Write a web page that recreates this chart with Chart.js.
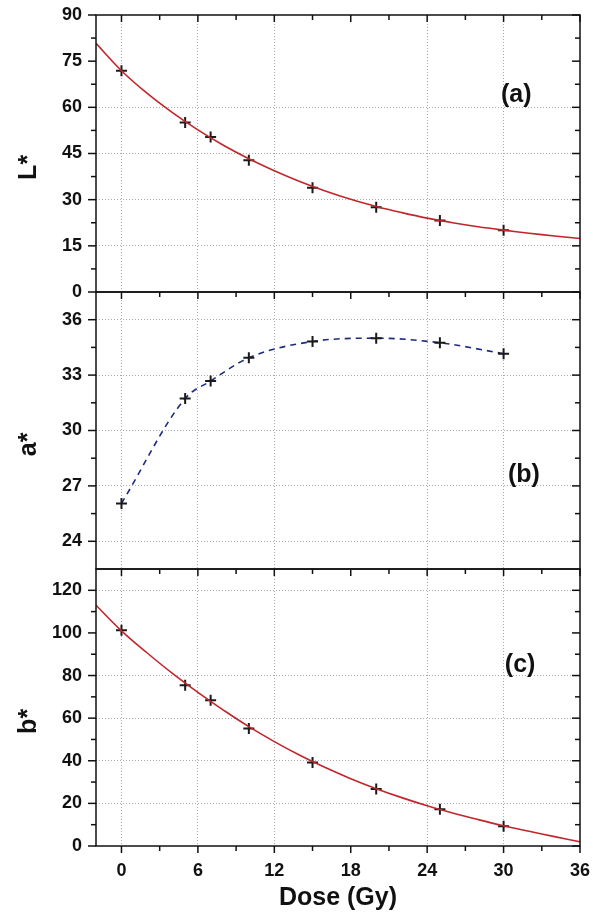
<!DOCTYPE html>
<html>
<head>
<meta charset="utf-8">
<script src="https://cdn.jsdelivr.net/npm/chart.js@4.4.1/dist/chart.umd.min.js"></script>
<style>
  html, body { margin: 0; padding: 0; background: #fff; }
  #wrap { width: 593px; height: 915px; position: relative; }
</style>
</head>
<body>
<div id="wrap"><canvas id="colorChart"></canvas></div>
<script>
// measured points
const dose = [0, 5, 7, 10, 15, 20, 25, 30];
const lStar = [71.9, 55.1, 50.4, 42.8, 33.9, 27.5, 23.2, 20.1];
const aStar = [26.05, 31.73, 32.68, 33.94, 34.82, 35.0, 34.75, 34.16];
const bStar = [101.2, 75.4, 68.4, 55.1, 39.2, 26.7, 17.3, 9.3];

// fitted curves
const fitDose = [-2, 0, 2, 4, 6, 8, 10, 12, 14, 16, 18, 20, 22, 24, 26, 28, 30, 32, 34, 36];
const lFit = [80.8, 71.9, 64.6, 58.3, 52.7, 47.7, 43.3, 39.4, 35.9, 32.8, 30.1, 27.8, 25.8, 24.0, 22.5, 21.2, 20.1, 19.1, 18.2, 17.4];
const bFit = [113, 101, 90.7, 81.0, 72.1, 63.8, 56.0, 49.0, 42.6, 36.8, 31.6, 26.9, 22.7, 18.9, 15.5, 12.4, 9.5, 6.9, 4.4, 2.0];

// ticks
const xTicks = [0, 6, 12, 18, 24, 30, 36];
const lTicks = [0, 15, 30, 45, 60, 75, 90];
const aTicks = [24, 27, 30, 33, 36];
const bTicks = [0, 20, 40, 60, 80, 100, 120];
const panelNames = ['(a)', '(b)', '(c)'];

const FONT = "'Liberation Sans', Arial, sans-serif";
const hiddenX = [18, 36, -2];
const hiddenY = { yA: [0, 75, 90], yB: [], yC: [0, 100] };

const toXY = (xs, ys) => xs.map((x, i) => ({ x: x, y: ys[i] }));
const pts = (arr) => arr.map(v => ({ value: v }));
const noPad = s => { s.paddingTop = 0; s.paddingBottom = 0; s.paddingLeft = 0; s.paddingRight = 0; };

function yScale(min, max, ticks, label, id) {
    return {
        type: 'linear',
        position: 'left',
        stack: 'panels',
        stackWeight: 1,
        min: min,
        max: max,
        afterBuildTicks: s => { s.ticks = pts(ticks); },
        afterFit: s => { s.width = 96; noPad(s); },
        ticks: {
            autoSkip: false,
            padding: 14,
            color: '#111',
            font: { family: FONT, size: 18, weight: 'bold' }
        },
        grid: {
            drawTicks: false,
            lineWidth: 1,
            color: c => (hiddenY[id].includes(c.tick.value) ? 'rgba(0,0,0,0)' : '#a8a8a8')
        },
        border: { display: false, dash: [1, 2] },
        title: {
            display: true,
            text: label + '    ',
            color: '#111',
            padding: { top: 14, bottom: 0 },
            font: { family: FONT, size: 25, weight: 'bold' }
        }
    };
}

const panelFrame = {
    id: 'panelFrame',
    afterDraw(chart) {
        const ctx = chart.ctx;
        const xs = chart.scales.x;
        const { left, right } = chart.chartArea;
        const line = (x1, y1, x2, y2) => { ctx.beginPath(); ctx.moveTo(x1, y1); ctx.lineTo(x2, y2); ctx.stroke(); };
        ctx.save();
        ctx.strokeStyle = '#111';
        ctx.lineWidth = 1.5;
        const xMinor = xTicks.slice(1).map(v => v - 3).filter(v => v > xs.min);
        ['yA', 'yB', 'yC'].forEach((id, k) => {
            const s = chart.scales[id];
            ctx.strokeRect(left, s.top, right - left, s.bottom - s.top);
            const major = s.ticks.map(t => t.value);
            const step = major[1] - major[0];
            const minor = [major[0] - step / 2].concat(major.map(v => v + step / 2))
                .filter(v => v > s.min && v < s.max);
            major.forEach(v => {
                const py = s.getPixelForValue(v);
                line(left - 8, py, left, py);
                line(right - 8, py, right, py);
            });
            minor.forEach(v => {
                const py = s.getPixelForValue(v);
                line(left - 5, py, left, py);
                line(right - 5, py, right, py);
            });
            xTicks.forEach(v => { const px = xs.getPixelForValue(v); line(px, s.top, px, s.top + 7); });
            xMinor.forEach(v => { const px = xs.getPixelForValue(v); line(px, s.top, px, s.top + 5); });
        });
        const bottom = chart.scales.yC.bottom;
        xTicks.forEach(v => { const px = xs.getPixelForValue(v); line(px, bottom, px, bottom + 7); });
        xMinor.forEach(v => { const px = xs.getPixelForValue(v); line(px, bottom, px, bottom + 5); });

        // panel letters
        ctx.fillStyle = '#111';
        ctx.font = "bold 25px " + FONT;
        ctx.textAlign = 'center';
        ctx.textBaseline = 'middle';
        const spots = [[31, 64, 'yA'], [31.6, 27.6, 'yB'], [31.3, 85, 'yC']];
        spots.forEach((p, i) => {
            ctx.fillText(panelNames[i], xs.getPixelForValue(p[0]), chart.scales[p[2]].getPixelForValue(p[1]));
        });
        ctx.restore();
    }
};

const markerStyle = {
    pointStyle: 'cross',
    pointRadius: 5.5,
    pointBorderWidth: 2,
    pointBorderColor: '#1a1a1a',
    pointBackgroundColor: '#1a1a1a'
};

new Chart(document.getElementById('colorChart'), {
    type: 'scatter',
    data: {
        datasets: [
            { label: 'L* fit', data: toXY(fitDose, lFit), yAxisID: 'yA', showLine: true, borderColor: '#c0262b', borderWidth: 1.6, pointRadius: 0, tension: 0.4 },
            Object.assign({ label: 'L*', data: toXY(dose, lStar), yAxisID: 'yA', showLine: false }, markerStyle),
            Object.assign({ label: 'a*', data: toXY(dose, aStar), yAxisID: 'yB', showLine: true, borderColor: '#1c2a80', borderWidth: 1.6, borderDash: [6, 5], cubicInterpolationMode: 'monotone' }, markerStyle),
            { label: 'b* fit', data: toXY(fitDose, bFit), yAxisID: 'yC', showLine: true, borderColor: '#c0262b', borderWidth: 1.6, pointRadius: 0, tension: 0.4 },
            Object.assign({ label: 'b*', data: toXY(dose, bStar), yAxisID: 'yC', showLine: false }, markerStyle)
        ]
    },
    options: {
        responsive: true,
        maintainAspectRatio: false,
        animation: false,
        layout: { padding: { left: 0, right: 13, top: 15, bottom: 0 } },
        plugins: { legend: { display: false }, tooltip: { enabled: false } },
        scales: {
            x: {
                type: 'linear',
                min: -2,
                max: 36,
                afterBuildTicks: s => { s.ticks = pts(xTicks); },
                afterFit: s => { s.height = 69; noPad(s); },
                ticks: {
                    autoSkip: false,
                    maxRotation: 0,
                    padding: 14,
                    color: '#111',
                    font: { family: FONT, size: 18, weight: 'bold' }
                },
                grid: {
                    drawTicks: false,
                    lineWidth: 1,
                    color: c => (hiddenX.includes(c.tick.value) ? 'rgba(0,0,0,0)' : '#a8a8a8')
                },
                border: { display: false, dash: [1, 2] },
                title: {
                    display: true,
                    text: 'Dose (Gy)',
                    color: '#111',
                    padding: { top: 4, bottom: 2 },
                    font: { family: FONT, size: 25, weight: 'bold' }
                }
            },
            // stacked panels: first listed sits at the bottom
            yC: yScale(0, 130, bTicks, 'b*', 'yC'),
            yB: yScale(22.5, 37.5, aTicks, 'a*', 'yB'),
            yA: yScale(0, 90, lTicks, 'L*', 'yA')
        }
    },
    plugins: [panelFrame]
});
</script>
</body>
</html>
